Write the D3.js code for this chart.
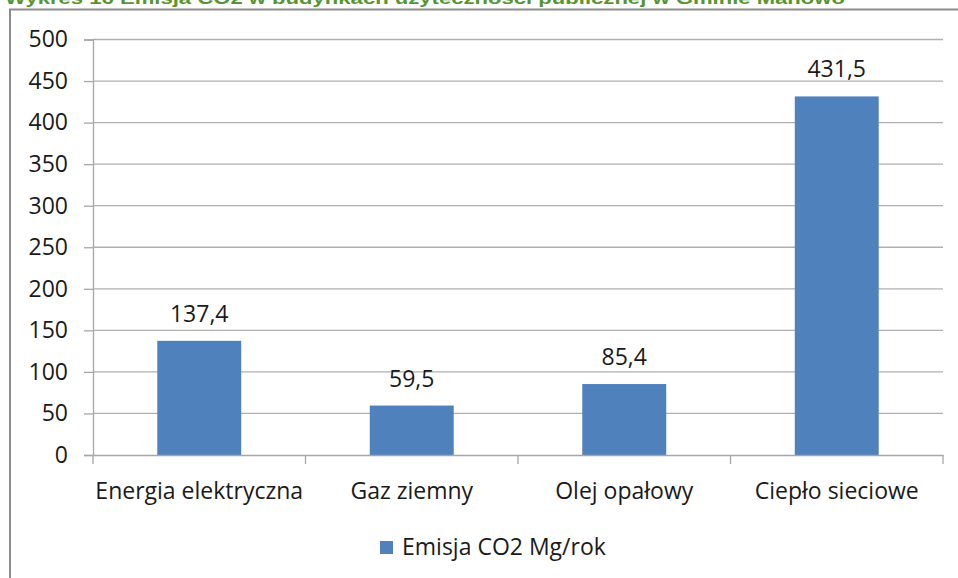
<!DOCTYPE html>
<html><head><meta charset="utf-8">
<script src="https://cdn.jsdelivr.net/npm/d3@7"></script>
<style>body{margin:0;background:#fff}svg{display:block}</style>
</head><body>
<svg id="c" width="958" height="578"></svg>
<script>
const titleText = "Wykres 16 Emisja CO2 w budynkach użyteczności publicznej  w Gminie Manowo";
const categories = ["Energia elektryczna", "Gaz ziemny", "Olej opałowy", "Ciepło sieciowe"];
const values = [137.4, 59.5, 85.4, 431.5];
const valueLabels = ["137,4", "59,5", "85,4", "431,5"];
const yTicks = [0, 50, 100, 150, 200, 250, 300, 350, 400, 450, 500];
const seriesName = "Emisja CO2 Mg/rok";

(function () {
const svg = d3.select("#c");
const font = "'Open Sans', 'Noto Sans', sans-serif";
const fs = 23;
const txtCol = "#1a1a1a";
const pLeft = 93, pRight = 943, pTop = 39.5, pBottom = 455;

// title (cut off at top)
svg.append("text").attr("x", 5).attr("y", 4)
  .attr("font-family", "'Liberation Sans', Arial, sans-serif").attr("font-weight", "bold")
  .attr("font-size", 17).attr("fill", "#559632")
  .attr("textLength", 840).attr("lengthAdjust", "spacingAndGlyphs")
  .text(titleText);

// outer frame
svg.append("rect").attr("x", 10).attr("y", 9.5).attr("width", 960).attr("height", 600)
  .attr("fill", "none").attr("stroke", "#8c8c8c").attr("stroke-width", 2);

const x = d3.scaleBand().domain(categories).range([pLeft, pRight]).padding(0);
const y = d3.scaleLinear().domain([0, 500]).range([pBottom, pTop]);

// gridlines
svg.append("g").selectAll("line").data(yTicks.filter(d => d > 0)).join("line")
  .attr("x1", pLeft).attr("x2", pRight)
  .attr("y1", d => y(d)).attr("y2", d => y(d))
  .attr("stroke", "#b0b0b0").attr("stroke-width", 1.3);

// y axis
const yAxis = d3.axisLeft(y).tickValues(yTicks).tickSize(9).tickPadding(16);
const gy = svg.append("g").attr("transform", `translate(${pLeft},0)`).call(yAxis);
gy.select(".domain").attr("stroke", "#a6a6a6").attr("stroke-width", 1.3);
gy.selectAll(".tick line").attr("stroke", "#a6a6a6").attr("stroke-width", 1.3);
gy.selectAll("text").attr("font-family", font).attr("font-size", fs).attr("fill", txtCol);

// bars
const barW = x.bandwidth() * 0.395;
svg.append("g").selectAll("rect").data(values).join("rect")
  .attr("x", (d, i) => x(categories[i]) + x.bandwidth() / 2 - barW / 2)
  .attr("width", barW)
  .attr("y", d => y(d)).attr("height", d => y(0) - y(d))
  .attr("fill", "#4f81bd");

// x axis
const xAxis = d3.axisBottom(x).tickSize(0).tickPadding(28);
const gx = svg.append("g").attr("transform", `translate(0,${pBottom})`).call(xAxis);
gx.select(".domain").attr("stroke", "#a6a6a6").attr("stroke-width", 1.3);
gx.selectAll("text").attr("font-family", font).attr("font-size", fs).attr("fill", txtCol);
// category boundary ticks
const bounds = categories.map(c => x(c)).concat([pRight]);
svg.append("g").selectAll("line").data(bounds).join("line")
  .attr("x1", d => d).attr("x2", d => d).attr("y1", pBottom).attr("y2", pBottom + 9)
  .attr("stroke", "#a6a6a6").attr("stroke-width", 1.3);

// data labels
svg.append("g").selectAll("text").data(values).join("text")
  .attr("x", (d, i) => x(categories[i]) + x.bandwidth() / 2)
  .attr("y", d => y(d) - 19)
  .attr("text-anchor", "middle")
  .attr("font-family", font).attr("font-size", fs).attr("fill", txtCol)
  .text((d, i) => valueLabels[i]);

// legend
const lg = svg.append("g").attr("transform", "translate(380,541)");
lg.append("rect").attr("width", 13).attr("height", 13).attr("fill", "#4f81bd");
lg.append("text").attr("x", 22).attr("y", 14).attr("font-family", font).attr("font-size", fs)
  .attr("fill", txtCol).text(seriesName);
})();
</script>
</body></html>
